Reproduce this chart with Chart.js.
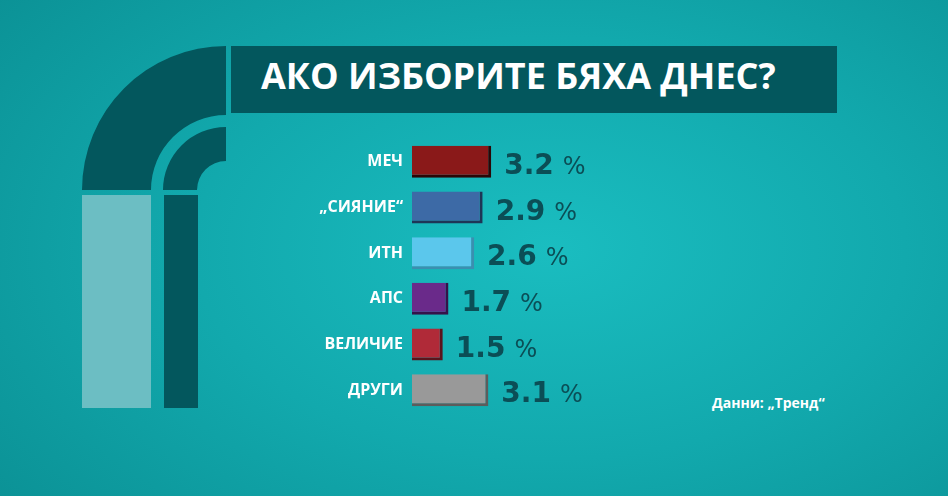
<!DOCTYPE html>
<html>
<head>
<meta charset="utf-8">
<script src="https://cdn.jsdelivr.net/npm/chart.js@4.4.1/dist/chart.umd.min.js"></script>
<style>
    html, body { margin: 0; padding: 0; }
    body {
        width: 948px; height: 496px; overflow: hidden; position: relative;
        background: radial-gradient(ellipse 75% 85% at 58% 50%, #1abdc0 0%, #12a9ad 50%, #0b9195 100%);
        font-family: 'Open Sans', sans-serif;
    }
    #deco { position: absolute; left: 0; top: 0; }
    #titleBar {
        position: absolute; left: 231px; top: 46px; width: 606px; height: 67px;
        background: #03575d;
    }
    #titleText {
        position: absolute; left: 261px; top: 51px; height: 67px; line-height: 67px;
        color: #fff; font: 700 36px 'Open Sans', sans-serif; white-space: nowrap;
    }
    #source {
        position: absolute; left: 712px; top: 393px;
        color: #fff; font: 700 14px 'Open Sans', sans-serif; white-space: nowrap;
    }
    #chart { position: absolute; left: 0; top: 0; }
</style>
</head>
<body>
<svg id="deco" width="948" height="496">
    <path d="M 82 190 A 144 144 0 0 1 226 46 L 226 115 A 75 75 0 0 0 151 190 Z" fill="#03575d"/>
    <path d="M 163 190 A 63 63 0 0 1 226 127 L 226 161 A 29 29 0 0 0 197 190 Z" fill="#03575d"/>
    <rect x="82" y="195" width="69" height="213" fill="#6cbec3"/>
    <rect x="164" y="195" width="34" height="213" fill="#03575d"/>
</svg>
<div id="titleBar"></div>
<div id="titleText">АКО ИЗБОРИТЕ БЯХА ДНЕС?</div>
<div id="source">Данни: „Тренд“</div>
<canvas id="chart" width="948" height="496"></canvas>
<script>
// Parties and poll results (%)
const parties = ['МЕЧ', '„СИЯНИЕ“', 'ИТН', 'АПС', 'ВЕЛИЧИЕ', 'ДРУГИ'];
const results = [3.2, 2.9, 2.6, 1.7, 1.5, 3.1];

// Bar colours and their darker "3D" edges
const barColors = ['#8a1919', '#3d6aa6', '#5bc7ec', '#6a2a8a', '#b02a38', '#999999'];
const edgeColors = ['#2a0707', '#1e3656', '#3b8fb0', '#35124a', '#5a141c', '#5c5c5c'];

const valueColor = '#0b4e56';

// Draws "3.2 %" next to each bar
const valueLabels = {
    id: 'valueLabels',
    afterDatasetsDraw(chart) {
        const ctx = chart.ctx;
        const meta = chart.getDatasetMeta(0);
        ctx.save();
        ctx.textBaseline = 'alphabetic';
        ctx.textAlign = 'left';
        meta.data.forEach((bar, i) => {
            const txt = results[i].toFixed(1);
            const x = bar.x + 13;
            const y = bar.y + 12;
            ctx.font = 'bold 28px "DejaVu Sans", sans-serif';
            ctx.fillStyle = valueColor;
            ctx.fillText(txt, x, y);
            const w = ctx.measureText(txt).width;
            ctx.font = '24px "DejaVu Sans", sans-serif';
            ctx.fillText('%', x + w + 9, y);
        });
        ctx.restore();
    }
};

new Chart(document.getElementById('chart').getContext('2d'), {
    type: 'bar',
    data: {
        labels: parties,
        datasets: [{
            data: results,
            backgroundColor: barColors,
            borderColor: edgeColors,
            borderWidth: { top: 0, left: 0, right: 3, bottom: 3 },
            borderSkipped: false,
            barPercentage: 0.7,
            categoryPercentage: 1
        }]
    },
    options: {
        indexAxis: 'y',
        responsive: false,
        animation: false,
        layout: { padding: { top: 139, bottom: 83, left: 0, right: 377 } },
        plugins: {
            legend: { display: false },
            tooltip: { enabled: false }
        },
        scales: {
            x: {
                display: false,
                min: 0.42,
                max: 6
            },
            y: {
                grid: { display: false, drawTicks: false },
                border: { display: false },
                ticks: {
                    color: '#ffffff',
                    padding: 9,
                    font: { family: 'Open Sans', weight: 'bold', size: 16 }
                },
                afterFit(scale) { scale.width = 412; }
            }
        }
    },
    plugins: [valueLabels]
});
</script>
</body>
</html>
